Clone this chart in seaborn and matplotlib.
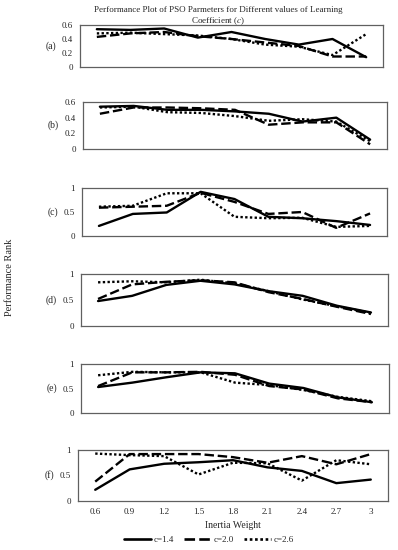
import matplotlib
matplotlib.use("Agg")
import matplotlib.pyplot as plt
import seaborn as sns
import pandas as pd
from matplotlib.lines import Line2D

# inertia weight values (x axis)
weights = ["0.6", "0.9", "1.2", "1.5", "1.8", "2.1", "2.4", "2.7", "3"]
coefs = ["c=1.4", "c=2.0", "c=2.6"]
panels = ["(a)", "(b)", "(c)", "(d)", "(e)", "(f)"]

# performance rank per panel, one list per learning coefficient
a14 = [0.54, 0.53, 0.55, 0.42, 0.50, 0.40, 0.32, 0.40, 0.14]
a20 = [0.43, 0.48, 0.50, 0.44, 0.40, 0.35, 0.30, 0.15, 0.15]
a26 = [0.48, 0.49, 0.47, 0.45, 0.40, 0.32, 0.29, 0.17, 0.47]

b14 = [0.54, 0.55, 0.50, 0.50, 0.48, 0.45, 0.35, 0.40, 0.12]
b20 = [0.45, 0.53, 0.53, 0.52, 0.50, 0.31, 0.34, 0.34, 0.06]
b26 = [0.53, 0.54, 0.47, 0.46, 0.42, 0.36, 0.38, 0.35, 0.10]

c14 = [0.21, 0.46, 0.49, 0.92, 0.77, 0.40, 0.37, 0.31, 0.23]
c20 = [0.59, 0.61, 0.63, 0.90, 0.71, 0.46, 0.50, 0.17, 0.47]
c26 = [0.61, 0.63, 0.89, 0.89, 0.40, 0.37, 0.38, 0.19, 0.21]

d14 = [0.48, 0.58, 0.79, 0.87, 0.80, 0.67, 0.58, 0.39, 0.26]
d20 = [0.52, 0.80, 0.85, 0.88, 0.84, 0.65, 0.52, 0.37, 0.23]
d26 = [0.84, 0.86, 0.84, 0.89, 0.82, 0.67, 0.51, 0.38, 0.25]

e14 = [0.53, 0.62, 0.73, 0.83, 0.81, 0.60, 0.51, 0.32, 0.22]
e20 = [0.55, 0.83, 0.83, 0.84, 0.78, 0.55, 0.48, 0.30, 0.22]
e26 = [0.77, 0.84, 0.83, 0.83, 0.62, 0.57, 0.47, 0.33, 0.24]

f14 = [0.22, 0.62, 0.73, 0.76, 0.80, 0.66, 0.59, 0.35, 0.42]
f20 = [0.38, 0.92, 0.92, 0.92, 0.86, 0.75, 0.88, 0.72, 0.92]
f26 = [0.93, 0.90, 0.88, 0.52, 0.75, 0.74, 0.40, 0.80, 0.72]

panel_data = [(a14, a20, a26), (b14, b20, b26), (c14, c20, c26),
              (d14, d20, d26), (e14, e20, e26), (f14, f20, f26)]

sns.set_style("white")
plt.rcParams["font.family"] = ["Liberation Serif", "DejaVu Serif"]
plt.rcParams["mathtext.fontset"] = "stix"

fig = plt.figure(figsize=(3.98, 5.5), dpi=100)

# axes boxes in pixels: left, top, right, bottom
boxes = [(80, 25, 383, 67), (83, 102, 387, 149), (82, 188, 387, 236),
         (81, 274, 388, 326), (81, 364, 389, 413), (78, 450, 388, 501)]

dashes = {"c=1.4": "", "c=2.0": (4, 1.6), "c=2.6": (1, 1)}

for k, (lab, vals, box) in enumerate(zip(panels, panel_data, boxes)):
    l, t, r, b = box
    ax = fig.add_axes([l / 398, 1 - b / 550, (r - l) / 398, (b - t) / 550])
    df = pd.DataFrame({
        "idx": list(range(len(weights))) * 3,
        "rank": vals[0] + vals[1] + vals[2],
        "c": [c for c in coefs for _ in weights],
    })
    sns.lineplot(data=df, x="idx", y="rank", style="c", dashes=dashes,
                 color="black", linewidth=1.7, ax=ax, legend=False)
    ax.set_xlim(-0.5, 8.5)
    if k < 2:
        ax.set_ylim(0, 0.6)
        ax.set_yticks([0, 0.2, 0.4, 0.6])
        ax.set_yticklabels(["0", "0.2", "0.4", "0.6"])
    else:
        ax.set_ylim(0, 1)
        ax.set_yticks([0, 0.5, 1])
        ax.set_yticklabels(["0", "0.5", "1"])
    ax.tick_params(axis="both", length=0, labelsize=6.5, pad=5)
    ax.set_ylabel(lab, rotation=0, fontsize=7, ha="right", va="center", labelpad=4)
    if k == 5:
        ax.set_xticks(range(len(weights)))
        ax.set_xticklabels(weights)
        ax.set_xlabel("Inertia Weight", fontsize=7, labelpad=4)
    else:
        ax.set_xticks([])
        ax.set_xlabel("")
    for sp in ax.spines.values():
        sp.set_color("#606060")
        sp.set_linewidth(0.9)

fig.text(0.548, 1 - 10 / 550, "Performance Plot of PSO Parmeters for Different values of Learning",
         ha="center", va="center", fontsize=6.5)
fig.text(0.548, 1 - 21 / 550, r"Coefficient ($\mathit{c}$)",
         ha="center", va="center", fontsize=6.5)
fig.text(10 / 398, 1 - 277 / 550, "Performance Rank", rotation=90,
         ha="center", va="center", fontsize=7.5)

handles = [Line2D([], [], color="black", lw=1.9, linestyle="-"),
           Line2D([], [], color="black", lw=1.9, dashes=(4, 1.6)),
           Line2D([], [], color="black", lw=1.9, dashes=(1, 1))]
fig.legend(handles, coefs, loc="center", bbox_to_anchor=(209 / 398, 1 - 540 / 550),
           ncol=3, frameon=False, fontsize=6.5, handlelength=3.0,
           columnspacing=1.1, handletextpad=0.3)

fig.savefig("out.png", dpi=100)
